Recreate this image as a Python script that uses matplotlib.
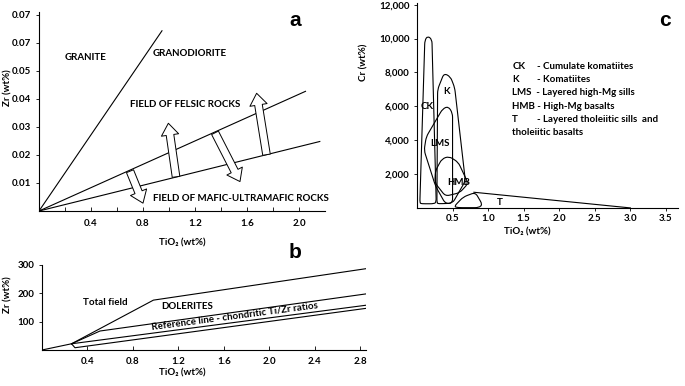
import matplotlib.pyplot as plt
import numpy as np
from matplotlib.path import Path
from matplotlib.patches import PathPatch

plt.rcParams['font.family'] = ['Lato', 'DejaVu Sans']
plt.rcParams['font.weight'] = 'bold'

# ---- panel a data (TiO2 wt%, Zr wt%)
a_granite = [(0, 0), (0.946, 0.0643)]
a_upper = [(0, 0), (2.05, 0.0427)]
a_lower = [(0, 0), (2.16, 0.0248)]
# arrows: (base, tip)
a_arrows = [((0.70, 0.0142), (0.80, 0.0028)),
            ((1.054, 0.0122), (0.995, 0.0313)),
            ((1.354, 0.0279), (1.546, 0.0105)),
            ((1.75, 0.0201), (1.674, 0.0420))]
a_yticks = [0.01, 0.02, 0.03, 0.04, 0.05, 0.06, 0.07]
a_yticklabels = ['0.01', '0.02', '0.03', '0.04', '0.05', '0.07', '0.07']
a_xticks = [0.4, 0.8, 1.2, 1.6, 2.0]

# ---- panel b data (TiO2 wt%, Zr)
b_origin = [(0, 0), (0.26, 22)]
b_total = [(0.26, 22), (0.98, 176), (2.85, 287)]
b_dolerite = [(0.26, 22), (0.51, 67), (2.85, 198)]
b_ref_upper = [(0.26, 22), (2.85, 158)]
b_ref_lower = [(0.26, 22), (0.29, 8), (2.85, 147)]
b_xticks = [0.4, 0.8, 1.2, 1.6, 2.0, 2.4, 2.8]
b_yticks = [100, 200, 300]

# ---- panel c data (TiO2 wt%, Cr)
c_ck = [(0.04, 300), (0.11, 9900), (0.15, 10150), (0.21, 9950), (0.27, 350), (0.24, 250), (0.06, 250)]
c_k = [(0.28, 300), (0.29, 7000), (0.38, 7950), (0.47, 7750), (0.53, 7100), (0.68, 1600), (0.50, 280), (0.30, 250)]
c_lms = [(0.36, 5850), (0.44, 6000), (0.50, 5600), (0.50, 300), (0.40, 250), (0.26, 1300), (0.10, 3400), (0.13, 4200)]
c_hmb = [(0.35, 2900), (0.45, 3050), (0.58, 2700), (0.72, 1450), (0.60, 900), (0.40, 700), (0.25, 1500), (0.26, 2200)]
c_t_loop = [(0.52, 80), (0.65, 650), (0.82, 920), (0.92, 200), (0.87, 20), (0.58, 20)]
c_t_line = [(0.80, 930), (3.0, 5)]
c_labels = [('CK', 0.14, 6000), ('K', 0.42, 6900), ('LMS', 0.32, 3800), ('HMB', 0.58, 1500), ('T', 1.17, 320)]
c_xticks = [0.5, 1.0, 1.5, 2.0, 2.5, 3.0, 3.5]
c_yticks = [2000, 4000, 6000, 8000, 10000, 12000]
c_yticklabels = ['2,000', '4,000', '6,000', '8,000', '10,000', '12,000']

W, H = 685, 386
fig = plt.figure(figsize=(W / 100, H / 100), dpi=100)


def box(l, b, r, t):
    return [l / W, 1 - b / H, (r - l) / W, (b - t) / H]


def style(ax):
    for s in ['top', 'right']:
        ax.spines[s].set_visible(False)
    for s in ['left', 'bottom']:
        ax.spines[s].set_linewidth(0.8)
    ax.tick_params(labelsize=7, width=0.6, length=2.5, pad=3)
    for lab in ax.get_xticklabels() + ax.get_yticklabels():
        lab.set_fontweight('bold')


def line(ax, pts):
    pts = np.array(pts)
    ax.plot(pts[:, 0], pts[:, 1], color='black', lw=0.8)


def rounded(ax, pts, r=4):
    T = ax.transData
    P = T.transform(np.array(pts, dtype=float))
    verts, codes = [], []
    n = len(P)
    for i in range(n):
        p0, p1, p2 = P[i - 1], P[i], P[(i + 1) % n]
        d1, d2 = p0 - p1, p2 - p1
        l1, l2 = np.hypot(*d1), np.hypot(*d2)
        a = p1 + d1 / l1 * min(r, l1 / 2)
        b = p1 + d2 / l2 * min(r, l2 / 2)
        verts += [a, p1, b]
        codes += [Path.MOVETO if i == 0 else Path.LINETO, Path.CURVE3, Path.CURVE3]
    verts.append(verts[0])
    codes.append(Path.LINETO)
    verts = T.inverted().transform(np.array(verts))
    ax.add_patch(PathPatch(Path(verts, codes), fc='none', ec='black', lw=0.8))


# ================= panel a
ax = fig.add_axes(box(39, 211, 325, 12))
ax.set_xlim(0, 2.2)
ax.set_ylim(0, 0.071)
for pts in [a_granite, a_upper, a_lower]:
    line(ax, pts)
for base, tip in a_arrows:
    ax.annotate('', xy=tip, xytext=base,
                arrowprops=dict(arrowstyle='simple,head_length=0.85,head_width=1.25,tail_width=0.55',
                                mutation_scale=10, fc='white', ec='black', lw=0.7,
                                shrinkA=0, shrinkB=0))
ax.set_xticks(np.arange(0.2, 2.2, 0.2), minor=True)
ax.set_xticks(a_xticks)
ax.set_xticklabels([f'{v:.1f}' for v in a_xticks])
ax.set_yticks(a_yticks)
ax.set_yticklabels(a_yticklabels)
style(ax)
ax.tick_params(axis='x', which='both', direction='in', length=3, pad=6)
ax.text(0.20, 0.0546, 'GRANITE', fontsize=7, fontweight='bold', va='center')
ax.text(0.877, 0.0562, 'GRANODIORITE', fontsize=7, fontweight='bold', va='center')
ax.text(0.70, 0.0379, 'FIELD OF FELSIC ROCKS', fontsize=7, fontweight='bold', va='center')
ax.text(0.88, 0.0046, 'FIELD OF MAFIC-ULTRAMAFIC ROCKS', fontsize=7, fontweight='bold', va='center')
fig.text(295 / W, 1 - 20 / H, 'a', fontsize=15, fontweight='bold', family='Liberation Sans',
         ha='center', va='center')
fig.text(182 / W, 1 - 243 / H, 'TiO₂ (wt%)', fontsize=7, fontweight='bold', ha='center', va='center')
fig.text(8 / W, 1 - 88 / H, 'Zr (wt%)', fontsize=7, fontweight='bold', rotation=90,
         ha='center', va='center')

# ================= panel b
ax = fig.add_axes(box(42, 350, 366, 265))
ax.set_xlim(0, 2.85)
ax.set_ylim(0, 300)
for pts in [b_origin, b_total, b_dolerite, b_ref_upper, b_ref_lower]:
    line(ax, pts)
ax.set_xticks(b_xticks)
ax.set_xticklabels([f'{v:.1f}' for v in b_xticks])
ax.set_yticks(b_yticks)
style(ax)
ax.tick_params(axis='x', direction='in', length=3, pad=5)
ax.text(0.36, 166, 'Total field', fontsize=7, fontweight='bold', va='center')
ax.text(1.05, 152, 'DOLERITES', fontsize=7, fontweight='bold', va='center')
ax.text(0.97, 64, 'Reference line - chondritic Ti/Zr ratios', fontsize=7, fontweight='bold',
        rotation=7.5, rotation_mode='anchor', va='bottom')
fig.text(295 / W, 1 - 253 / H, 'b', fontsize=15, fontweight='bold', family='Liberation Sans',
         ha='center', va='center')
fig.text(182 / W, 1 - 373 / H, 'TiO₂ (wt%)', fontsize=7, fontweight='bold', ha='center', va='center')
fig.text(8 / W, 1 - 295 / H, 'Zr (wt%)', fontsize=7, fontweight='bold', rotation=90,
         ha='center', va='center')

# ================= panel c
ax = fig.add_axes(box(417, 208, 678, 3))
ax.set_xlim(0, 3.67)
ax.set_ylim(0, 12100)
for pts in [c_ck, c_k, c_lms, c_hmb, c_t_loop]:
    rounded(ax, pts)
line(ax, c_t_line)
for name, x, y in c_labels:
    ax.text(x, y, name, fontsize=7, fontweight='bold', ha='center', va='center')
ax.set_xticks(c_xticks)
ax.set_xticklabels([f'{v:.1f}' for v in c_xticks])
ax.set_yticks(c_yticks)
ax.set_yticklabels(c_yticklabels)
style(ax)
ax.tick_params(axis='x', pad=2)
legend_rows = [('CK', '- Cumulate komatiites'), ('K', '- Komatiites'),
               ('LMS  - Layered high-Mg sills', ''), ('HMB - High-Mg basalts', ''),
               ('T', '- Layered tholeiitic sills  and'), ('tholeiitic basalts', '')]
for i, (abbr, desc) in enumerate(legend_rows):
    y = 8350 - i * 780
    ax.text(1.34, y, abbr, fontsize=7, fontweight='bold', va='center')
    if desc:
        ax.text(1.69, y, desc, fontsize=7, fontweight='bold', va='center')
fig.text(665 / W, 1 - 20 / H, 'c', fontsize=15, fontweight='bold', family='Liberation Sans',
         ha='center', va='center')
fig.text(527 / W, 1 - 232 / H, 'TiO₂ (wt%)', fontsize=7, fontweight='bold', ha='center', va='center')
fig.text(364 / W, 1 - 62 / H, 'Cr (wt%)', fontsize=7, fontweight='bold', rotation=90,
         ha='center', va='center')

fig.savefig('out.png', dpi=100)
